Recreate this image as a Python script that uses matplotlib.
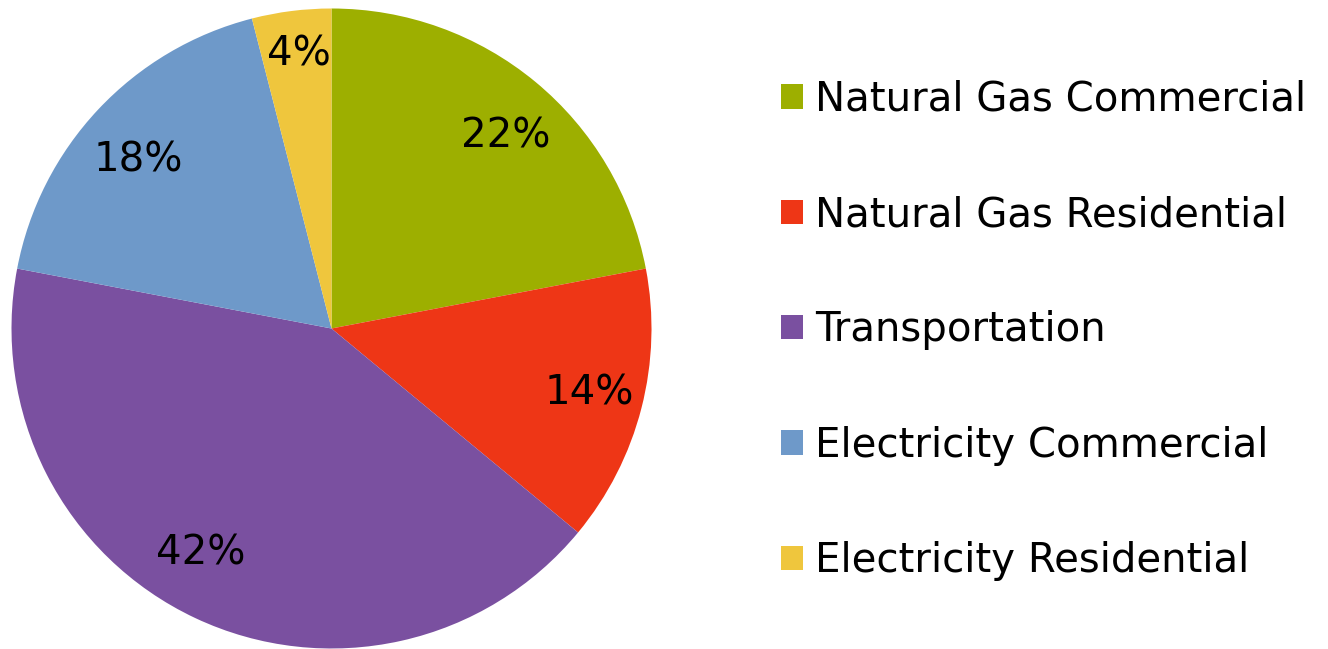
import numpy as np
import matplotlib.pyplot as plt
from matplotlib.patches import Patch

labels = ['Natural Gas Commercial', 'Natural Gas Residential', 'Transportation',
          'Electricity Commercial', 'Electricity Residential']
values = [22, 14, 42, 18, 4]
colors = ['#9DAF00', '#EE3616', '#7A50A0', '#6E99C9', '#EFC63D']

W, H = 1328, 649
fig = plt.figure(figsize=(W / 100, H / 100), dpi=100)
ax = fig.add_axes([11.5 / W, 0.5 / H, 640 / W, 640 / H])

wedges, texts, autotexts = ax.pie(values, colors=colors, startangle=90, counterclock=False,
                                  radius=1, autopct='%d%%', pctdistance=0.82,
                                  wedgeprops=dict(linewidth=0),
                                  textprops=dict(fontsize=29, color='black'))

# nudge the percent labels a little, like the original label placement
lab_r = [0.815, 0.83, 0.805, 0.805, 0.87]
lab_shift = [-2.2, 0.9, -5.2, 1.7, -0.5]
for w, t, r, s in zip(wedges, autotexts, lab_r, lab_shift):
    ang = np.deg2rad((w.theta1 + w.theta2) / 2 + s)
    t.set_position((r * np.cos(ang), r * np.sin(ang) + 0.006))
    t.set_va('center_baseline')

ax.set_xlim(-1, 1)
ax.set_ylim(-1, 1)
ax.set_aspect('equal')
ax.axis('off')

handles = [Patch(facecolor=c, edgecolor='none') for c in colors]
fig.legend(handles, labels, loc='center left', bbox_to_anchor=(765 / W, 0.5 - 6 / H),
           frameon=False, fontsize=29, handlelength=0.55, handleheight=0.55,
           handletextpad=0.3, labelspacing=1.87, borderaxespad=0)

fig.savefig('out.png', dpi=100)
